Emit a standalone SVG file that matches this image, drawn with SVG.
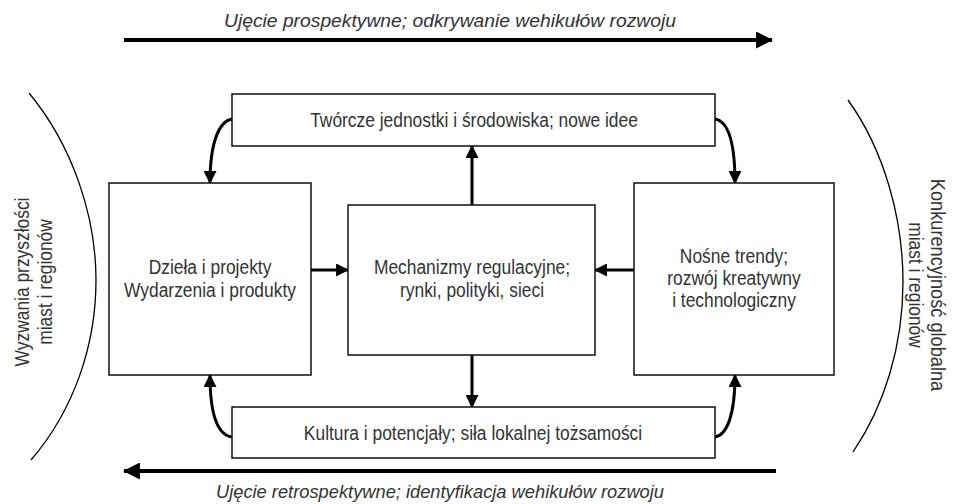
<svg xmlns="http://www.w3.org/2000/svg" width="960" height="504" viewBox="0 0 960 504">
<defs>
<marker id="ah" viewBox="0 0 12 12" refX="11" refY="6" markerWidth="13" markerHeight="13" markerUnits="userSpaceOnUse" orient="auto">
<path d="M0,0 L12,6 L0,12 z" fill="#000"/>
</marker>
<marker id="ahBig" viewBox="0 0 16 16" refX="15" refY="8" markerWidth="17" markerHeight="17" markerUnits="userSpaceOnUse" orient="auto">
<path d="M0,0 L16,8 L0,16 z" fill="#000"/>
</marker>
<style>
.box{fill:#fff;stroke:#111;stroke-width:1.5}
.t{font-family:"Liberation Sans",Arial,sans-serif;font-size:20px;fill:#333;text-anchor:middle}
.it{font-style:italic;font-size:19px}
.c{fill:none;stroke:#000;stroke-width:3;marker-end:url(#ah)}
.big{fill:none;stroke:#000;stroke-width:4;marker-end:url(#ahBig)}
.arc{fill:none;stroke:#000;stroke-width:1.3}
</style>
</defs>
<rect width="960" height="504" fill="#fff"/>

<g id="top-axis">
<text class="t it" x="450" y="27" textLength="452" lengthAdjust="spacingAndGlyphs">Ujęcie prospektywne; odkrywanie wehikułów rozwoju</text>
<path class="big" d="M124,40 L772,40"/>
</g>
<g id="bottom-axis">
<path class="big" d="M776,471 L124,471"/>
<text class="t it" x="440" y="498" textLength="448" lengthAdjust="spacingAndGlyphs">Ujęcie retrospektywne; identyfikacja wehikułów rozwoju</text>
</g>

<g id="left-context">
<path class="arc" d="M29,93 C72,145 96,215 96,280 C96,345 74,410 31,460"/>
<text class="t" transform="translate(29,282) rotate(-90) scale(0.87,1)">Wyzwania przyszłości</text>
<text class="t" transform="translate(52,282) rotate(-90) scale(0.87,1)">miast i regionów</text>
</g>
<g id="right-context">
<path class="arc" d="M848,100 C884,150 903,218 903,282 C903,345 885,405 853,452"/>
<text class="t" transform="translate(931,285) rotate(90) scale(0.91,1)">Konkurencyjność globalna</text>
<text class="t" transform="translate(909,285) rotate(90) scale(0.87,1)">miast i regionów</text>
</g>

<g id="connectors">
<path class="c" d="M232,119 C220,121 210,140 210,183"/>
<path class="c" d="M715,119 C727,121 735,140 735,183"/>
<path class="c" d="M472,205 L472,146"/>
<path class="c" d="M472,355 L472,407"/>
<path class="c" d="M311,270 L348,270"/>
<path class="c" d="M634,270 L595,270"/>
<path class="c" d="M232,437 C218,435 210,415 210,375"/>
<path class="c" d="M715,437 C727,435 735,415 735,375"/>
</g>

<g id="node-top">
<rect class="box" x="232" y="94" width="483" height="52"/>
<text class="t" transform="translate(474,127) scale(0.87,1)">Twórcze jednostki i środowiska; nowe idee</text>
</g>
<g id="node-left">
<rect class="box" x="109" y="183" width="202" height="192"/>
<text class="t" transform="translate(210,274) scale(0.87,1)">Dzieła i projekty</text>
<text class="t" transform="translate(210,297) scale(0.87,1)">Wydarzenia i produkty</text>
</g>
<g id="node-center">
<rect class="box" x="348" y="205" width="247" height="150"/>
<text class="t" transform="translate(472,274) scale(0.87,1)">Mechanizmy regulacyjne;</text>
<text class="t" transform="translate(472,297) scale(0.87,1)">rynki, polityki, sieci</text>
</g>
<g id="node-right">
<rect class="box" x="634" y="183" width="200" height="192"/>
<text class="t" transform="translate(734,263) scale(0.87,1)">Nośne trendy;</text>
<text class="t" transform="translate(734,285) scale(0.87,1)">rozwój kreatywny</text>
<text class="t" transform="translate(734,307) scale(0.87,1)">i technologiczny</text>
</g>
<g id="node-bottom">
<rect class="box" x="232" y="407" width="483" height="51"/>
<text class="t" transform="translate(473,440) scale(0.87,1)">Kultura i potencjały; siła lokalnej tożsamości</text>
</g>
</svg>
